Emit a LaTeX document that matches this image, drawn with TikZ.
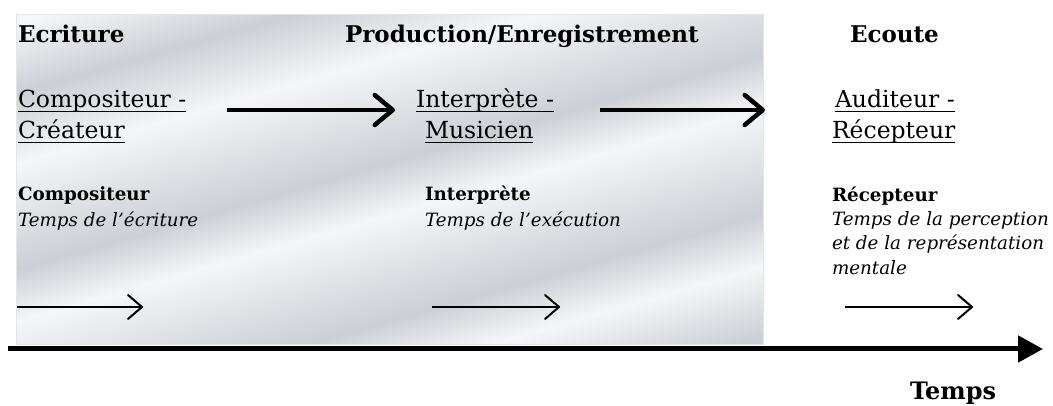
\documentclass[tikz,border=0pt]{standalone}
\usepackage{fontspec}
\setmainfont{DejaVu Serif}
\usetikzlibrary{arrows.meta}
\definecolor{sd}{RGB}{204,207,213}
\definecolor{sm}{RGB}{224,226,230}
\definecolor{sl}{RGB}{245,246,248}
\pgfdeclarehorizontalshading{silver}{100bp}{color(0bp)=(sm); color(20bp)=(sl); color(28bp)=(sd); color(36bp)=(sl); color(42bp)=(sm); color(48bp)=(sd); color(54bp)=(sl); color(60bp)=(sm); color(66bp)=(sd); color(72bp)=(sl); color(80bp)=(sd); color(100bp)=(sm)}
\newcommand{\myul}[1]{\setbox0\hbox{#1}\rlap{\rule[-4.5pt]{\wd0}{1.3pt}}\box0}
\tikzset{
  txt/.style={anchor=base west, inner sep=0pt, outer sep=0pt},
  head/.style={txt, font=\fontsize{23}{28}\selectfont\bfseries},
  body/.style={txt, font=\fontsize{23.5}{28}\selectfont},
  smallb/.style={txt, font=\fontsize{18.3}{24}\selectfont\bfseries},
  smalli/.style={txt, font=\fontsize{18.3}{24}\selectfont\itshape},
  bigarrow/.style={line width=4.5pt, -{Straight Barb[length=18pt,width=30pt,round]}},
  smallarrow/.style={line width=2pt, -{Straight Barb[length=14pt,width=24pt,round]}},
  timeline/.style={line width=5pt, -{Triangle[length=25pt,width=26pt]}},
}
\begin{document}
\begin{tikzpicture}[x=1pt,y=1pt]
\useasboundingbox (0,0) rectangle (1053,406);
\fill[white] (0,0) rectangle (1053,406);
% silver background panel
\path[shading=silver, shading angle=-74] (16,61) rectangle (763,391);
\draw[gray!20, line width=1pt] (16,61) rectangle (763,391);
% headings
\node[head] (ecr) at (18,363) {Ecriture};
\node[head] (prod) at (345,363) {Production/Enregistrement};
\node[head] (eco) at (850,363) {Ecoute};
% actors
\node[body] (comp1) at (18,298) {\myul{Compositeur -}};
\node[body] (comp2) at (18,267) {\myul{Créateur}};
\node[body] (int1) at (416,298) {\myul{Interprète -}};
\node[body] (int2) at (425,267) {\myul{Musicien}};
\node[body] (aud1) at (835,298) {\myul{Auditeur -}};
\node[body] (aud2) at (832,267) {\myul{Récepteur}};
% big arrows
\coordinate (a1s) at (227,296);
\coordinate (a1e) at (395,296);
\coordinate (a2s) at (600,296);
\coordinate (a2e) at (765,296);
\draw[bigarrow] (a1s) -- (a1e);
\draw[bigarrow] (a2s) -- (a2e);
% small texts
\node[smallb] (c3) at (18,205) {Compositeur};
\node[smalli] (c4) at (18,179) {Temps de l’écriture};
\node[smallb] (i3) at (425,205) {Interprète};
\node[smalli] (i4) at (425,179) {Temps de l’exécution};
\node[smallb] (r3) at (832,204) {Récepteur};
\node[smalli] (r4) at (832,180) {Temps de la perception};
\node[smalli] (r5) at (832,156) {et de la représentation};
\node[smalli] (r6) at (832,131) {mentale};
% small arrows
\coordinate (s1s) at (17,99);
\coordinate (s1e) at (143,99);
\coordinate (s2s) at (432,99);
\coordinate (s2e) at (560,99);
\coordinate (s3s) at (845,99);
\coordinate (s3e) at (973,99);
\draw[smallarrow] (s1s) -- (s1e);
\draw[smallarrow] (s2s) -- (s2e);
\draw[smallarrow] (s3s) -- (s3e);
% timeline
\coordinate (ts) at (8,57);
\coordinate (te) at (1043,57);
\draw[timeline] (ts) -- (te);
\node[head, font=\fontsize{24}{28}\selectfont\bfseries] (temps) at (910,6) {Temps};
\end{tikzpicture}
\end{document}
